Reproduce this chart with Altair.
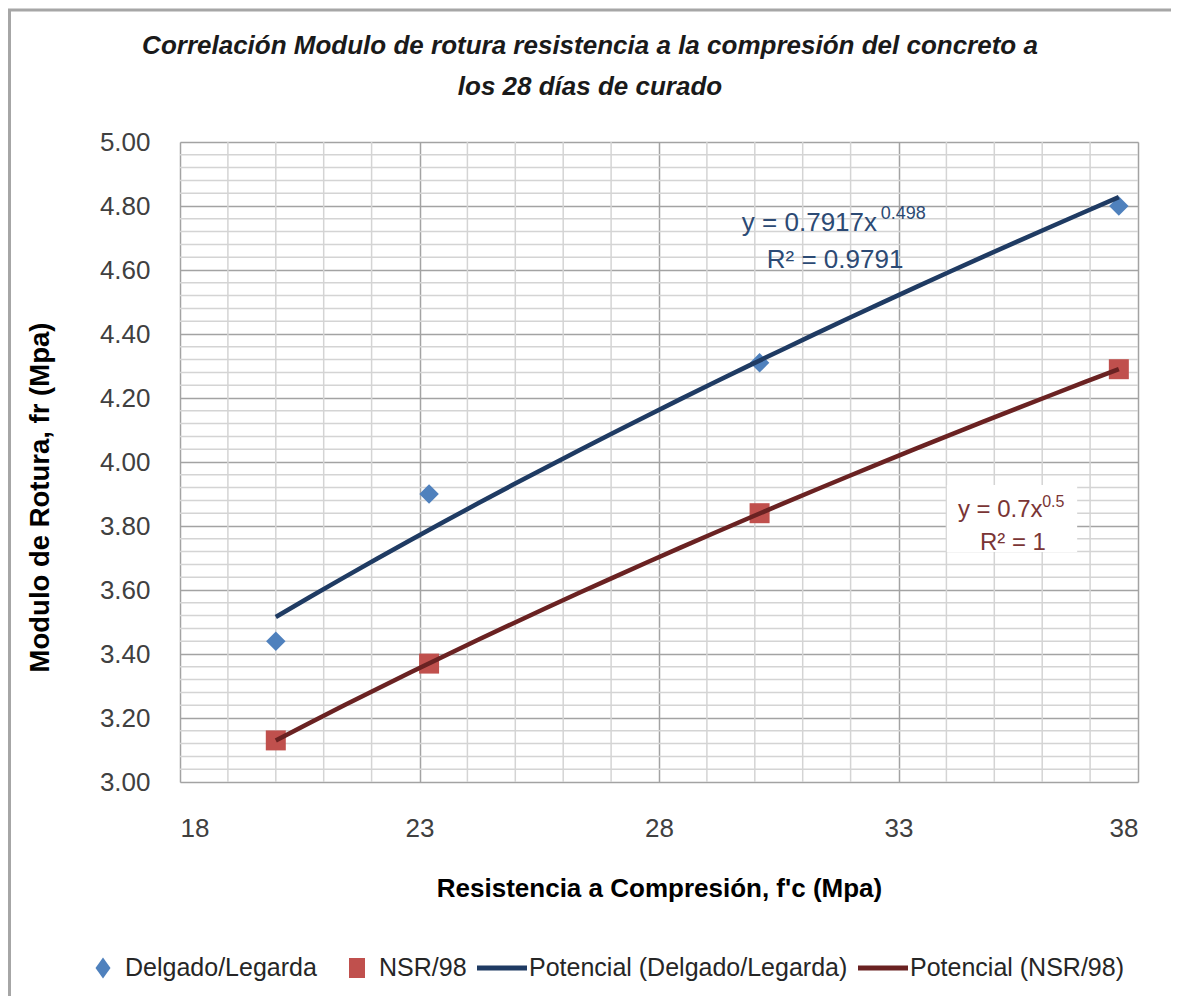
import altair as alt
import pandas as pd

# ---------------- data ----------------
fc = [20.0, 23.2, 30.1, 37.6]
fr_delgado = [3.44, 3.90, 4.31, 4.80]
fr_nsr = [3.13, 3.37, 3.84, 4.29]

series_names = ["Delgado/Legarda", "NSR/98", "Potencial (Delgado/Legarda)", "Potencial (NSR/98)"]
series_colors = ["#4F81BD", "#C0504D", "#1F3B63", "#6A2222"]

x_major = [18, 23, 28, 33, 38]
y_major = [3.0, 3.2, 3.4, 3.6, 3.8, 4.0, 4.2, 4.4, 4.6, 4.8, 5.0]
x_minor = [v for v in range(19, 38) if v not in x_major]
y_minor = [round(3 + 0.04 * i, 2) for i in range(1, 50) if i % 5 != 0]

title_lines = ["Correlación Modulo de rotura resistencia a la compresión del concreto a",
               "los 28 días de curado"]
x_title = "Resistencia a Compresión, f'c (Mpa)"
y_title = "Modulo de Rotura, fr (Mpa)"

ann1_text = ["y = 0.7917x", "0.498", "R² = 0.9791"]
ann1_x = [29.73, 32.63, 30.25]
ann1_y = [4.747, 4.774, 4.631]
ann1_size = [26, 18, 26]

ann2_text = ["y = 0.7x", "0.5", "R² = 1"]
ann2_x = [34.24, 36.0, 34.70]
ann2_y = [3.850, 3.874, 3.747]
ann2_size = [24, 16, 24]

box_x = [34.01, 36.73]
box_y = [3.928, 3.719]

FONT = "Liberation Sans"

# ---------------- tables ----------------
pts = pd.DataFrame({
    "fc": fc * 2,
    "fr": fr_delgado + fr_nsr,
    "serie": [series_names[0]] * len(fc) + [series_names[1]] * len(fc),
})
ann1 = pd.DataFrame({"fc": ann1_x, "fr": ann1_y, "txt": ann1_text, "fs": ann1_size})
ann2 = pd.DataFrame({"fc": ann2_x, "fr": ann2_y, "txt": ann2_text, "fs": ann2_size})
box = pd.DataFrame({"fc": [box_x[0]], "fc2": [box_x[1]], "fr": [box_y[0]], "fr2": [box_y[1]]})
vminor = pd.DataFrame({"fc": x_minor})
hminor = pd.DataFrame({"fr": y_minor})

xscale = alt.Scale(domain=[18, 38], nice=False, zero=False)
yscale = alt.Scale(domain=[3, 5], nice=False, zero=False)

xaxis = alt.Axis(values=x_major, title=x_title, grid=True, gridColor="#A3A3A3", gridWidth=1.5,
                 domain=False, ticks=False, tickSize=0, labelPadding=33, labelFontSize=26,
                 labelColor="#404040", labelFont=FONT, titleFont=FONT, titleFontSize=26,
                 titleFontWeight="bold", titleColor="#000000", titleY=106, titleBaseline="middle")
yaxis = alt.Axis(values=y_major, format=".2f", title=y_title, grid=True, gridColor="#A3A3A3",
                 gridWidth=1.5, domain=False, ticks=False, tickSize=0, labelPadding=30,
                 labelFontSize=26, labelColor="#404040", labelFont=FONT, titleFont=FONT,
                 titleFontSize=27.5, titleFontWeight="bold", titleColor="#000000",
                 titleX=-140, titleY=355, titleAngle=-90, titleAlign="center",
                 titleBaseline="middle")


def X(field="fc"):
    return alt.X(f"{field}:Q", scale=xscale, axis=xaxis)


def Y(field="fr"):
    return alt.Y(f"{field}:Q", scale=yscale, axis=yaxis)


minor_v = alt.Chart(vminor).mark_rule(color="#D4D4D4", strokeWidth=1.5).encode(x=X())
minor_h = alt.Chart(hminor).mark_rule(color="#D4D4D4", strokeWidth=1.5).encode(y=Y())

box_layer = alt.Chart(box).mark_rect(fill="white").encode(
    x=X(), x2="fc2:Q", y=Y(), y2="fr2:Q")

pt_d = alt.Chart(pts).transform_filter(alt.datum.serie == series_names[0]).mark_point(
    shape="diamond", filled=True, size=380, color=series_colors[0], opacity=1
).encode(x=X(), y=Y())
pt_n = alt.Chart(pts).transform_filter(alt.datum.serie == series_names[1]).mark_point(
    shape="square", filled=True, size=400, color=series_colors[1], opacity=1
).encode(x=X(), y=Y())

fit_d = alt.Chart(pts).transform_filter(alt.datum.serie == series_names[0]).transform_regression(
    "fc", "fr", method="pow").mark_line(color=series_colors[2], strokeWidth=4.5).encode(x=X(), y=Y())
fit_n = alt.Chart(pts).transform_filter(alt.datum.serie == series_names[1]).transform_regression(
    "fc", "fr", method="pow").mark_line(color=series_colors[3], strokeWidth=4.5).encode(x=X(), y=Y())

text1 = alt.Chart(ann1).mark_text(align="left", baseline="middle", font=FONT, color="#2C4A74").encode(
    x=X(), y=Y(), text="txt:N", size=alt.Size("fs:Q", scale=None, legend=None))
text2 = alt.Chart(ann2).mark_text(align="left", baseline="middle", font=FONT, color="#7A3535").encode(
    x=X(), y=Y(), text="txt:N", size=alt.Size("fs:Q", scale=None, legend=None))

title_style = dict(align="center", baseline="middle", font=FONT, fontSize=26, fontWeight="bold",
                   fontStyle="italic", color="#1A1A1A")
title1 = alt.Chart(pd.DataFrame({"k": [0]})).mark_text(text=title_lines[0], **title_style).encode(
    x=alt.value(410), y=alt.value(-96))
title2 = alt.Chart(pd.DataFrame({"k": [0]})).mark_text(text=title_lines[1], **title_style).encode(
    x=alt.value(410), y=alt.value(-55))

legend_shapes = [
    "M0.2,-0.42L0.5,0L0.2,0.42L-0.1,0Z",
    "M-0.12,-0.4H0.52V0.4H-0.12Z",
    "M-1,-0.1H1V0.1H-1Z",
    "M-1,-0.1H1V0.1H-1Z",
]
leg = alt.Legend(title=None, orient="none", direction="horizontal", legendX=-107, legendY=801,
                 symbolSize=2500, symbolStrokeWidth=0, symbolOpacity=1, labelFont=FONT,
                 labelFontSize=25, labelColor="#262626", labelOffset=2, columnPadding=10,
                 labelLimit=500, padding=0, columns=4)
legend_layer = alt.Chart(pts).transform_filter("false").mark_point(filled=True, opacity=1).encode(
    x=X(), y=Y(),
    color=alt.Color("serie:N", scale=alt.Scale(domain=series_names, range=series_colors), legend=leg),
    shape=alt.Shape("serie:N", scale=alt.Scale(domain=series_names, range=legend_shapes), legend=leg),
)

frame = alt.Chart(pd.DataFrame({"k": [0]})).mark_rect(
    fillOpacity=0, stroke="#A6A6A6", strokeWidth=3
).encode(x=alt.value(-170.5), x2=alt.value(995), y=alt.value(-132), y2=alt.value(870))

chart = alt.layer(
    frame, minor_v, minor_h, box_layer, pt_d, pt_n, fit_d, fit_n, text1, text2, title1, title2,
    legend_layer
).properties(
    width=958, height=640,
    autosize=alt.AutoSizeParams(type="none"),
    padding={"left": 172, "top": 134, "right": 33, "bottom": 214},
).configure_view(stroke="#8C8C8C", strokeWidth=1.5).configure(background="white")

chart.save("out.html", embed_options={"renderer": "svg", "actions": False})
